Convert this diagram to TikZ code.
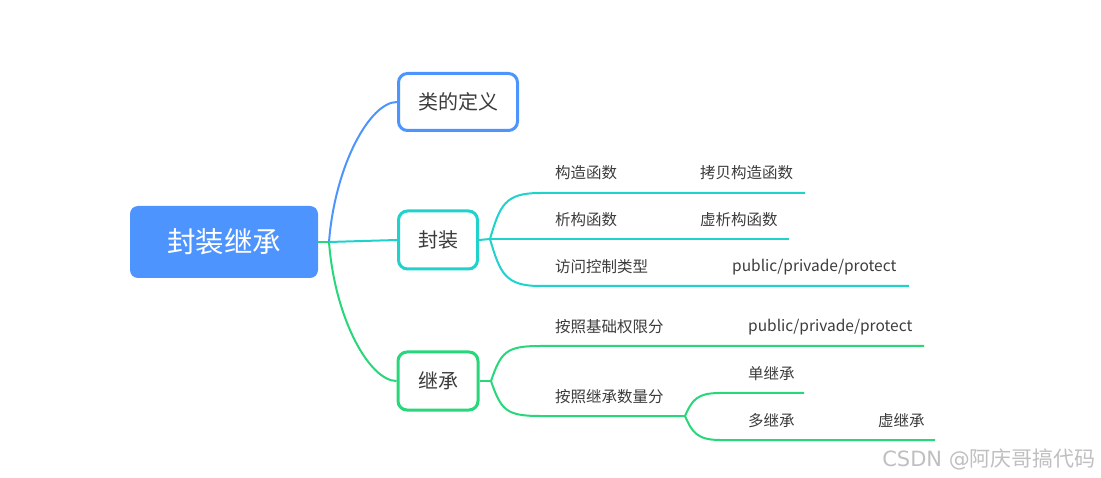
\documentclass[tikz,border=0pt]{standalone}
\usepackage{fontspec}
\setmainfont{Noto Sans CJK SC}
\newfontfamily\markfont{DejaVu Sans}
\definecolor{mapblue}{HTML}{4D94FF}
\definecolor{mapteal}{HTML}{1FD3CC}
\definecolor{mapgreen}{HTML}{27D77A}
\definecolor{maptext}{HTML}{3C3C3C}
\begin{document}
\begin{tikzpicture}[x=1pt,y=-1pt,
topic/.style={draw=#1,line width=3pt,rounded corners=9pt,fill=white,text=maptext,font=\fontsize{20}{20}\selectfont,inner sep=0pt},
leaf/.style={anchor=west,text=maptext,font=\fontsize{15.5}{15.5}\selectfont,inner sep=0pt},
link/.style={draw=#1,line width=2pt}]
\useasboundingbox (0,0) rectangle (1101,478);
\node[fill=mapblue,rounded corners=8pt,minimum width=188pt,minimum height=72pt,text=white,font=\fontsize{28.5}{28.5}\selectfont,inner sep=0pt] (root) at (224,242) {封装继承};
\node[topic=mapblue,minimum width=119pt,minimum height=57pt] (def) at (458,102) {类的定义};
\node[topic=mapteal,minimum width=79pt,minimum height=58pt] (fz) at (438,240) {封装};
\node[topic=mapgreen,minimum width=80pt,minimum height=58pt] (jc) at (438,381) {继承};
\coordinate (rb) at (329,242);
\draw[link=mapgreen] (root.east)--(rb);
\draw[link=mapblue] (rb) .. controls (335,165) and (370,102) .. (def.west);
\draw[link=mapteal] (rb)--(fz.west);
\draw[link=mapgreen] (rb) .. controls (335,320) and (370,381) .. (jc.west);
\coordinate (fb) at (490,239);
\coordinate (gzend) at (805,193);
\coordinate (xgend) at (789,239);
\coordinate (fwend) at (909,286);
\draw[link=mapteal] (fz.east)--(fb);
\draw[link=mapteal] (fb) .. controls (500,205) and (505,193) .. (540,193)--(gzend);
\draw[link=mapteal] (fb)--(xgend);
\draw[link=mapteal] (fb) .. controls (500,273) and (505,286) .. (540,286)--(fwend);
\node[leaf] (gzhs) at (555,173) {构造函数};
\node[leaf] (kbgz) at (700,173) {拷贝构造函数};
\node[leaf] (xghs) at (555,220) {析构函数};
\node[leaf] (xxgh) at (700,220) {虚析构函数};
\node[leaf] (fwkz) at (555,267) {访问控制类型};
\node[leaf] (fwqx) at (732,267) {public/privade/protect};
\coordinate (jb) at (491,381);
\coordinate (jcend) at (924,346);
\coordinate (sb) at (685,416);
\coordinate (djend) at (804,393);
\coordinate (dbend) at (935,440);
\draw[link=mapgreen] (jc.east)--(jb);
\draw[link=mapgreen] (jb) .. controls (501,352) and (506,346) .. (540,346)--(jcend);
\draw[link=mapgreen] (jb) .. controls (501,410) and (506,416) .. (540,416)--(sb);
\draw[link=mapgreen] (sb) .. controls (692,400) and (697,393) .. (720,393)--(djend);
\draw[link=mapgreen] (sb) .. controls (692,432) and (697,440) .. (720,440)--(dbend);
\node[leaf] (jcqx) at (555,327) {按照基础权限分};
\node[leaf] (jcpub) at (748,327) {public/privade/protect};
\node[leaf] (jcsl) at (555,397) {按照继承数量分};
\node[leaf] (dan) at (748,374) {单继承};
\node[leaf] (duo) at (748,421) {多继承};
\node[leaf] (xu) at (878,421) {虚继承};
\node[anchor=east,inner sep=0pt,text=black!25,font=\fontsize{21}{21}\selectfont] (mark) at (1096,459) {{\markfont CSDN @}阿庆哥搞代码};
\end{tikzpicture}
\end{document}
